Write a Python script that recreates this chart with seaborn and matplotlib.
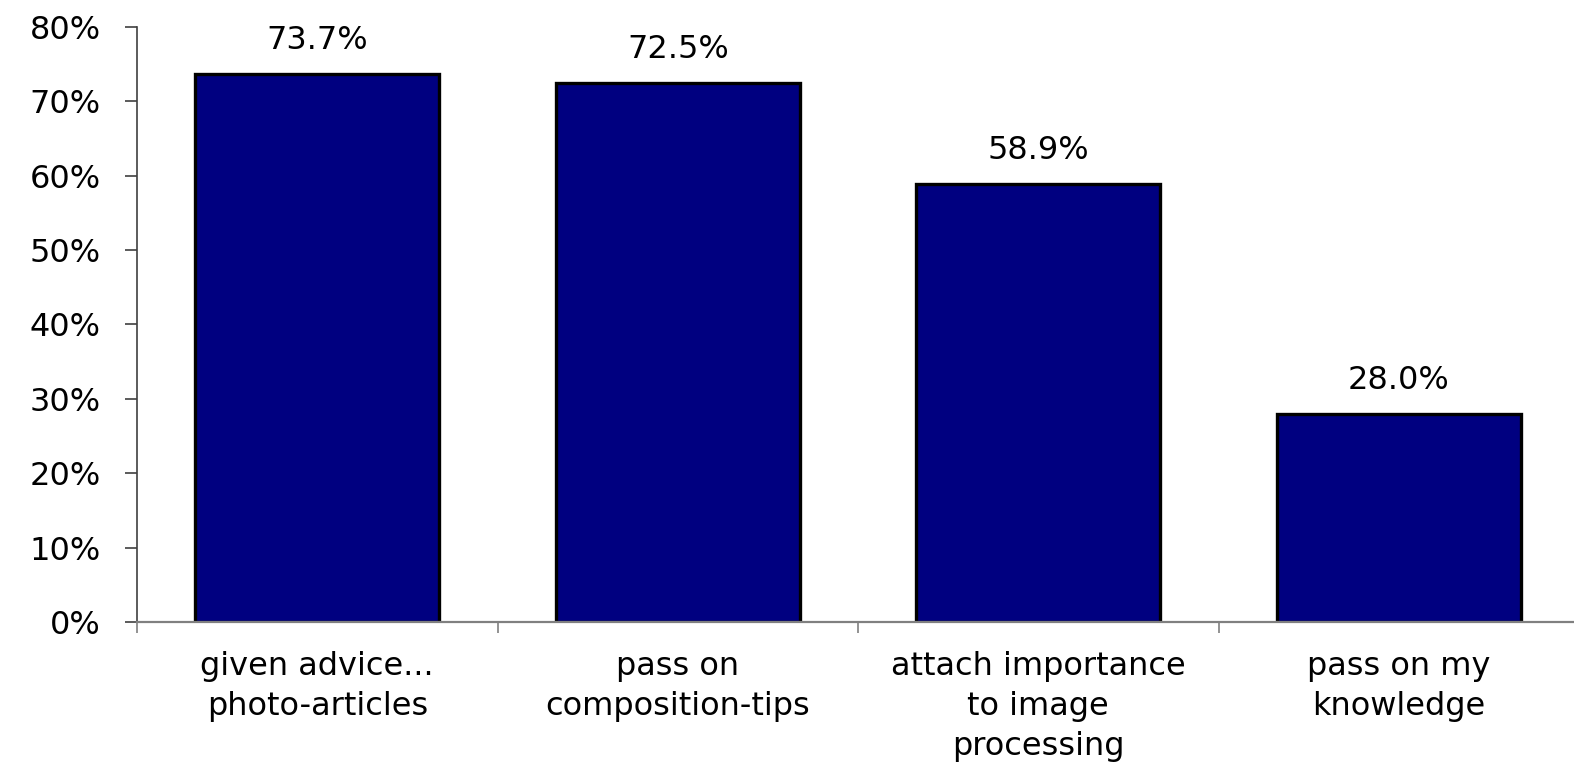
import matplotlib
matplotlib.use("Agg")
import matplotlib.pyplot as plt
import seaborn as sns
import pandas as pd
from matplotlib.ticker import FuncFormatter, FixedLocator

categories = [
    "given advice...\nphoto-articles",
    "pass on\ncomposition-tips",
    "attach importance\nto image\nprocessing",
    "pass on my\nknowledge",
]
shares = [73.7, 72.5, 58.9, 28.0]
y_ticks = [0, 10, 20, 30, 40, 50, 60, 70, 80]

sns.set_theme(style="white")
plt.rcParams["font.family"] = ["DejaVu Sans"]
plt.rcParams["text.color"] = "black"
plt.rcParams["xtick.color"] = "black"
plt.rcParams["ytick.color"] = "black"

df = pd.DataFrame({"category": categories, "share": shares})

fig = plt.figure(figsize=(15.74, 7.66), dpi=100)
ax = fig.add_axes([137 / 1574, 1 - 622 / 766, (1579 - 137) / 1574, (622 - 27) / 766])

sns.barplot(data=df, x="category", y="share", color="#000080", saturation=1,
            edgecolor="black", linewidth=2.4, width=0.678, ax=ax)

for container in ax.containers:
    ax.bar_label(container, labels=[f"{v:.1f}%" for v in shares],
                 padding=13, fontsize=23, color="black")

ax.set_xlim(-0.5, 3.5)
ax.set_ylim(0, 80)
ax.set_yticks(y_ticks)
ax.yaxis.set_major_formatter(FuncFormatter(lambda v, _: f"{v:.0f}%"))
ax.tick_params(axis="y", direction="out", length=9, width=1.2, color="#404040",
               labelcolor="black", labelsize=23, pad=17, left=True)

ax.set_xticks(range(len(categories)))
ax.set_xticklabels(categories, fontsize=23, linespacing=1.38, color="black")
ax.tick_params(axis="x", which="major", length=0, pad=21)
ax.xaxis.set_minor_locator(FixedLocator([-0.5, 0.5, 1.5, 2.5, 3.5]))
ax.tick_params(axis="x", which="minor", direction="out", length=8, width=1.2,
               color="#808080", bottom=True)

ax.set_xlabel("")
ax.set_ylabel("")
sns.despine(ax=ax, top=True, right=True)
ax.spines["left"].set_color("#404040")
ax.spines["left"].set_linewidth(1.2)
ax.spines["bottom"].set_color("#808080")
ax.spines["bottom"].set_linewidth(1.6)

fig.savefig("out.png", dpi=100)
